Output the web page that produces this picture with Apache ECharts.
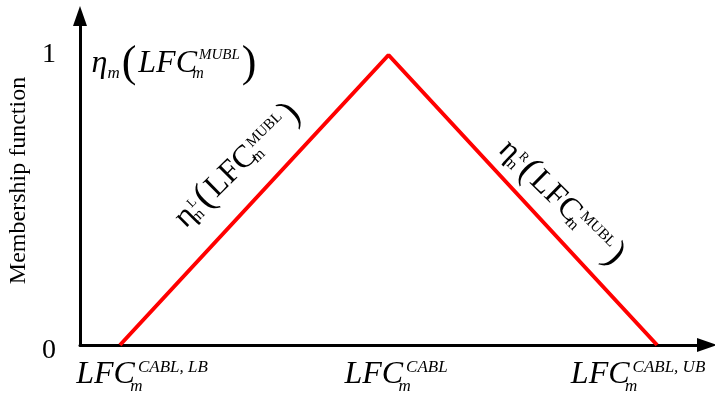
<!DOCTYPE html>
<html>
<head>
<meta charset="utf-8">
<script src="https://cdn.jsdelivr.net/npm/echarts@6/dist/echarts.min.js"></script>
<style>
html, body { margin: 0; padding: 0; background: #fff; }
#chart { width: 715px; height: 395px; }
</style>
</head>
<body>
<div id="chart"></div>
<script>
// triangular membership function
var xValues = [0, 1, 2];
var membership = [0, 1, 0];
var xTickValues = [0, 1, 2];
var xTickSups = ['CABL, LB', 'CABL', 'CABL, UB'];
var yTickValues = [0, 1];
var yName = 'Membership function';

var serif = 'Liberation Serif';
var myChart = echarts.init(document.getElementById('chart'));

// rich styles for the x tick labels (LFC_m^sup)
var xRich = {
	b: { fontFamily: serif, fontStyle: 'italic', fontSize: 32, lineHeight: 40, verticalAlign: 'middle', color: '#000' },
	s: { fontFamily: serif, fontStyle: 'italic', fontSize: 17, lineHeight: 17, width: 3, verticalAlign: 'bottom', color: '#000' },
	p: { fontFamily: serif, fontStyle: 'italic', fontSize: 17, lineHeight: 17, verticalAlign: 'top', padding: [4, 0, 0, 0], color: '#000' },
	g0: { width: 44, fontSize: 10 },
	g1: { width: 15, fontSize: 10 },
	g2: { width: 38, fontSize: 10 }
};

function tok(name, txt) {
	return '{' + name + '|' + txt + '}';
}

function textStyleRich(size, parenSize, lh, style) {
	return {
		e: { fontFamily: serif, fontStyle: style, fontSize: size, lineHeight: lh, verticalAlign: 'middle', fill: '#000' },
		b: { fontFamily: serif, fontStyle: style, fontSize: size, lineHeight: lh, verticalAlign: 'middle', fill: '#000' },
		pr: { fontFamily: serif, fontSize: parenSize, lineHeight: lh, verticalAlign: 'middle', padding: [0, 2, 0, 2], fill: '#000' },
		sm: { fontFamily: serif, fontStyle: style, fontSize: 17, lineHeight: 17, verticalAlign: 'bottom', padding: [0, 0, 7, 0], fill: '#000' },
		s: { fontFamily: serif, fontStyle: style, fontSize: 16, lineHeight: 16, width: 2, verticalAlign: 'bottom', padding: [0, 0, 7, 0], fill: '#000' },
		p: { fontFamily: serif, fontStyle: style, fontSize: 15, lineHeight: 15, verticalAlign: 'top', padding: [9, 0, 0, 0], fill: '#000' },
		ps: { fontFamily: serif, fontStyle: style, fontSize: 13, lineHeight: 13, verticalAlign: 'top', padding: [11, 0, 0, 0], fill: '#000' }
	};
}

var option = {
	animation: false,
	backgroundColor: '#fff',
	grid: { left: 80, right: 8, top: 16, bottom: 50, containLabel: false, outerBoundsMode: 'none' },
	xAxis: {
		type: 'value',
		min: -0.149,
		max: 2.186,
		splitLine: { show: false },
		axisTick: { show: false },
		axisLine: {
			show: true,
			onZero: false,
			symbol: ['none', 'triangle'],
			symbolSize: [14, 20],
			lineStyle: { color: '#000', width: 3 }
		},
		axisLabel: {
			customValues: xTickValues,
			margin: 10,
			hideOverlap: false,
			formatter: function(v) {
				var i = xTickValues.indexOf(v);
				if (i < 0) return '';
				var body = tok('b', 'LFC') + tok('s', 'm') + tok('p', xTickSups[i]);
				if (i === 0) return tok('g0', ' ') + body;
				if (i === 1) return tok('g1', ' ') + body;
				return body + tok('g2', ' ');
			},
			rich: xRich
		}
	},
	yAxis: {
		type: 'value',
		min: 0,
		max: 1.1345,
		splitLine: { show: false },
		axisTick: { show: false },
		axisLine: {
			show: true,
			onZero: false,
			symbol: ['none', 'triangle'],
			symbolSize: [14, 20],
			lineStyle: { color: '#000', width: 3 }
		},
		axisLabel: {
			customValues: yTickValues,
			margin: 24,
			formatter: function(v) {
				return v === 0 ? '{z|0}' : '{o|' + v + '}';
			},
			rich: {
				z: { fontFamily: serif, fontSize: 28, color: '#000', padding: [12, 0, 0, 0] },
				o: { fontFamily: serif, fontSize: 28, color: '#000' }
			}
		},
		name: yName,
		nameLocation: 'middle',
		nameGap: 42,
		nameTextStyle: { fontFamily: serif, fontSize: 24, color: '#000' }
	},
	series: [{
		type: 'line',
		data: xValues.map(function(x, i) { return [x, membership[i]]; }),
		symbol: 'none',
		silent: true,
		lineStyle: { color: '#ff0000', width: 4 }
	}],
	graphic: [{
		type: 'text',
		x: 175,
		y: 64,
		style: {
			text: tok('e', 'η') + tok('sm', 'm') + tok('pr', '(') + tok('b', 'LFC') + tok('s', 'm') + tok('p', 'MUBL') + tok('pr', ')'),
			rich: textStyleRich(32, 44, 50, 'italic'),
			align: 'center',
			verticalAlign: 'middle',
			fill: '#000'
		}
	}, {
		type: 'text',
		x: 238,
		y: 165,
		rotation: 0.78,
		style: {
			text: tok('e', 'η') + tok('s', 'm') + tok('ps', 'L') + tok('pr', '(') + tok('b', 'LFC') + tok('s', 'm') + tok('p', 'MUBL') + tok('pr', ')'),
			rich: textStyleRich(32, 38, 46, 'normal'),
			align: 'center',
			verticalAlign: 'middle',
			fill: '#000'
		}
	}, {
		type: 'text',
		x: 562,
		y: 203,
		rotation: -0.78,
		style: {
			text: tok('e', 'η') + tok('s', 'm') + tok('ps', 'R') + tok('pr', '(') + tok('b', 'LFC') + tok('s', 'm') + tok('p', 'MUBL') + tok('pr', ')'),
			rich: textStyleRich(32, 38, 46, 'normal'),
			align: 'center',
			verticalAlign: 'middle',
			fill: '#000'
		}
	}]
};

myChart.setOption(option);
</script>
</body>
</html>
